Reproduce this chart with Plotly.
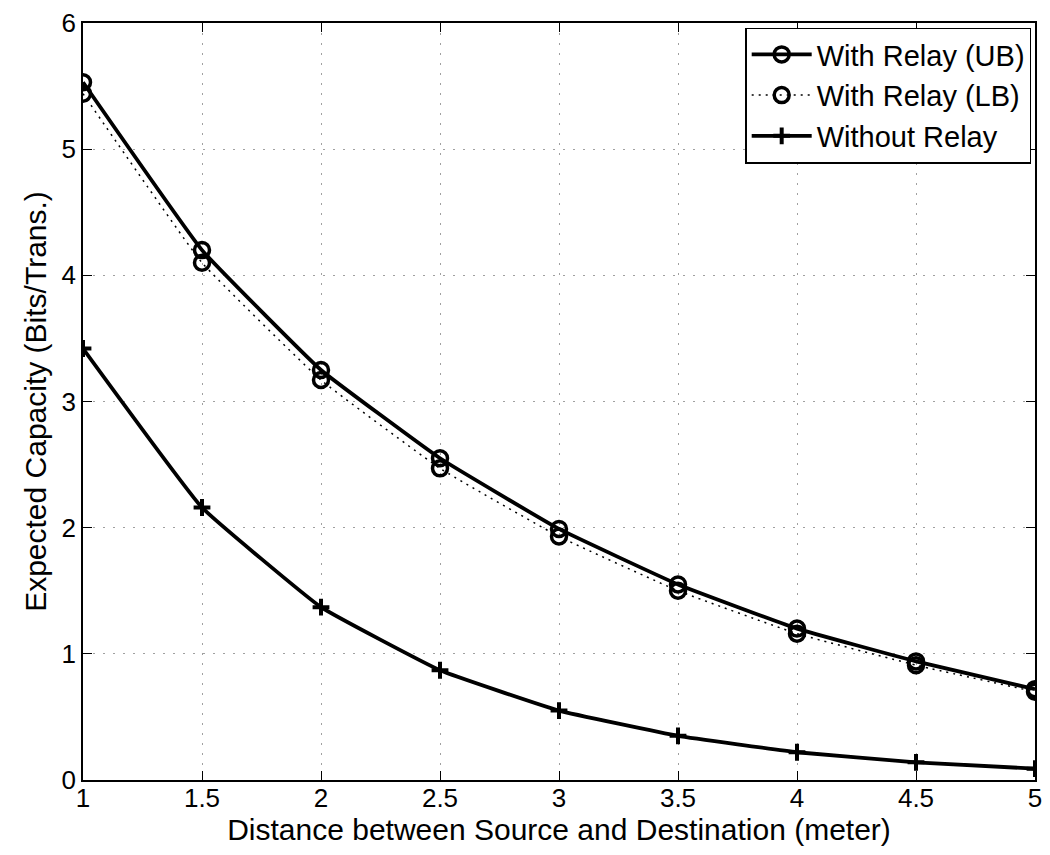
import plotly.graph_objects as go

# distances (meter)
distance = [1, 1.5, 2, 2.5, 3, 3.5, 4, 4.5, 5]
# expected capacity (bits/trans.)
relay_ub = [5.53, 4.20, 3.25, 2.55, 1.99, 1.55, 1.20, 0.94, 0.72]
relay_lb = [5.44, 4.10, 3.17, 2.47, 1.93, 1.50, 1.16, 0.91, 0.70]
no_relay = [3.42, 2.16, 1.37, 0.87, 0.55, 0.35, 0.22, 0.14, 0.09]

x_ticks = [1, 1.5, 2, 2.5, 3, 3.5, 4, 4.5, 5]
y_ticks = [0, 1, 2, 3, 4, 5, 6]

family = "Liberation Sans, Arial, Helvetica, sans-serif"
font = dict(family=family, size=30, color="black")
tick_font = dict(family=family, size=26, color="black")

fig = go.Figure()
fig.add_trace(go.Scatter(
    x=distance, y=relay_ub, name="With Relay (UB)", mode="lines+markers",
    line=dict(color="black", width=3.8, shape="spline", smoothing=0.3),
    marker=dict(symbol="circle-open", size=15, color="black", line=dict(width=3.5)),
))
fig.add_trace(go.Scatter(
    x=distance, y=relay_lb, name="With Relay (LB)", mode="lines+markers",
    line=dict(color="black", width=1.5, dash="2px,5px", shape="spline", smoothing=0.3),
    marker=dict(symbol="circle-open", size=15, color="black", line=dict(width=3.5)),
))
fig.add_trace(go.Scatter(
    x=distance, y=no_relay, name="Without Relay", mode="lines+markers",
    line=dict(color="black", width=3.8, shape="spline", smoothing=0.3),
    marker=dict(symbol="cross-thin-open", size=12, color="black", line=dict(width=4)),
))

axis_style = dict(
    showline=True, linecolor="black", linewidth=1.5, mirror="ticks",
    ticks="inside", ticklen=9, tickcolor="black", tickwidth=1,
    showgrid=True, gridcolor="#a0a0a0", griddash="2px,8px", gridwidth=1,
    zeroline=False, tickfont=tick_font, ticklabeloverflow="allow",
)
fig.update_xaxes(range=[1, 5], tickvals=x_ticks, ticktext=[f"{t:g}" for t in x_ticks],
                 ticklabelstandoff=-6,
                 title=dict(text="Distance between Source and Destination (meter)", font=font, standoff=1),
                 **axis_style)
fig.update_yaxes(range=[0, 6], tickvals=y_ticks,
                 title=dict(text="Expected Capacity (Bits/Trans.)", font=font, standoff=6),
                 **axis_style)

# page body has an 8px margin, so keep the figure inside the 1050x855 window
fig.update_layout(
    width=1034, height=839,
    margin=dict(l=75, r=0, t=8, b=67),
    paper_bgcolor="white", plot_bgcolor="white",
    font=font,
    legend=dict(x=0.996, y=0.994, xanchor="right", yanchor="top",
                bordercolor="black", borderwidth=1.5, bgcolor="white",
                font=dict(family=family, size=29, color="black"),
                tracegroupgap=0, itemwidth=60),
    showlegend=True,
)

fig.write_html("out.html")
